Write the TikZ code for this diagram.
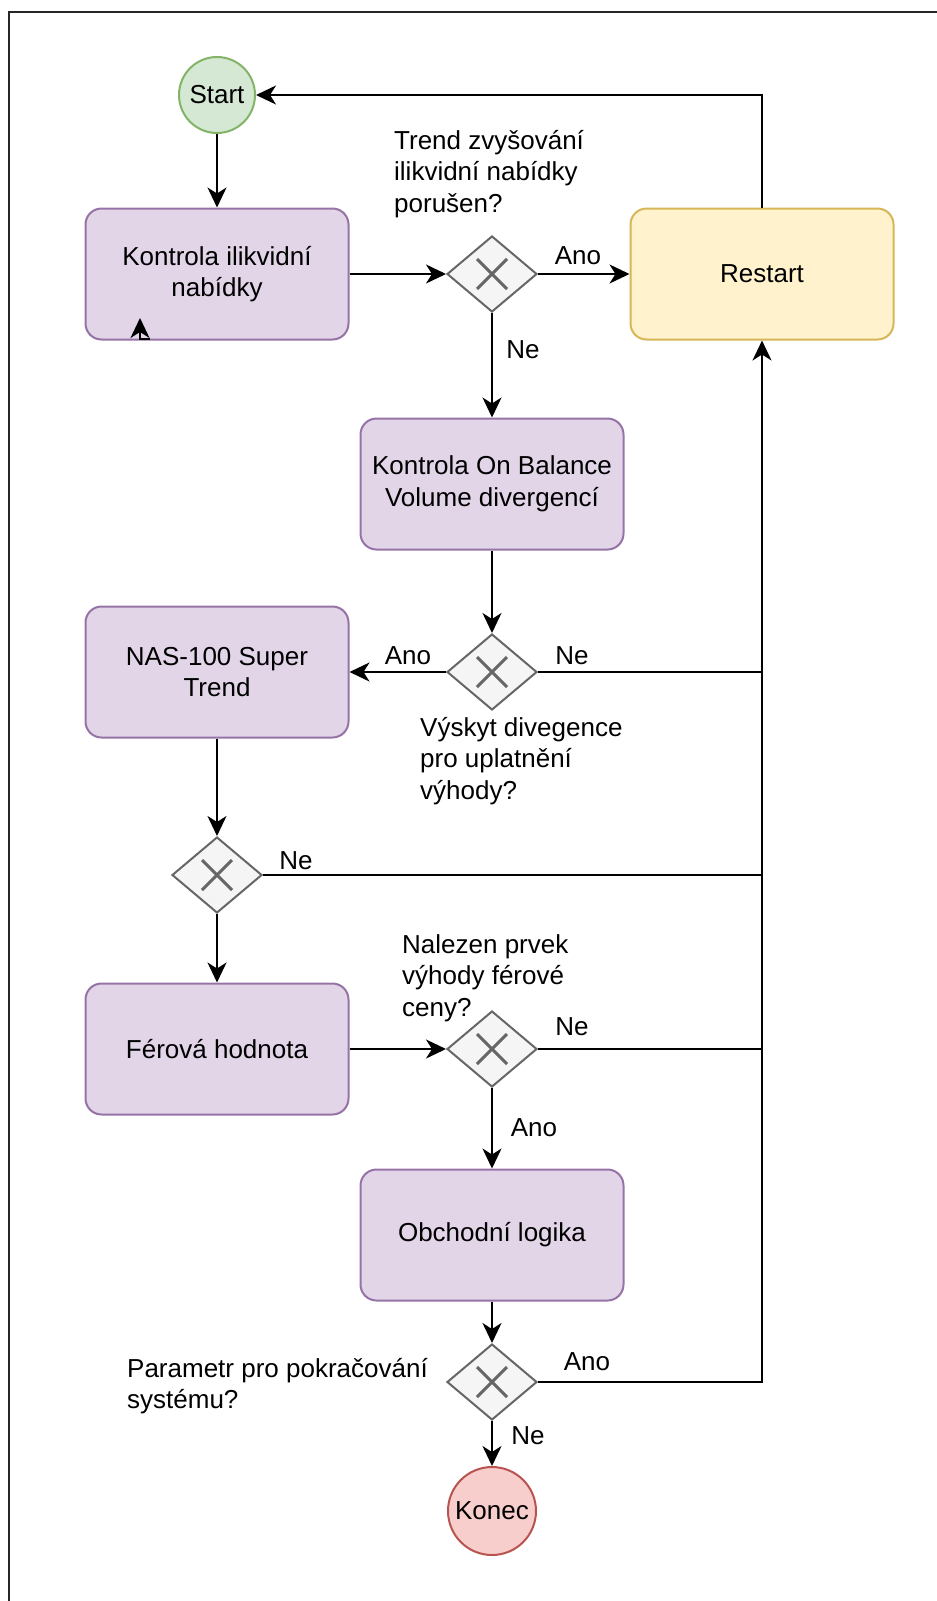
\documentclass[tikz,border=0pt]{standalone}
\usepackage{fontspec}
\setmainfont{Liberation Sans}
\usetikzlibrary{arrows.meta,shapes.geometric}
\definecolor{purfill}{HTML}{E1D5E7}
\definecolor{purline}{HTML}{9673A6}
\definecolor{grnfill}{HTML}{D5E8D4}
\definecolor{grnline}{HTML}{82B366}
\definecolor{yelfill}{HTML}{FFF2CC}
\definecolor{yelline}{HTML}{D6B656}
\definecolor{redfill}{HTML}{F8CECC}
\definecolor{redline}{HTML}{B85450}
\definecolor{gwfill}{HTML}{F5F5F5}
\definecolor{gwline}{HTML}{666666}
\begin{document}
\begin{tikzpicture}[x=1pt,y=-1pt,
  every node/.style={font=\fontsize{26}{31.5}\selectfont},
  proc/.style={draw=purline,fill=purfill,line width=2pt,rounded corners=16pt,
    minimum width=263pt,minimum height=131pt,align=center,inner sep=0pt},
  restartbox/.style={proc,draw=yelline,fill=yelfill},
  startnode/.style={circle,draw=grnline,fill=grnfill,line width=2pt,minimum size=76pt,inner sep=0pt},
  endnode/.style={circle,draw=redline,fill=redfill,line width=2pt,minimum size=88pt,inner sep=0pt},
  gateway/.style={diamond,draw=gwline,fill=gwfill,line width=2pt,minimum width=90pt,
    minimum height=76pt,inner sep=0pt,
    path picture={\draw[gwline,line width=3pt]
      ([xshift=-15pt,yshift=-15pt]path picture bounding box.center) -- ([xshift=15pt,yshift=15pt]path picture bounding box.center)
      ([xshift=-15pt,yshift=15pt]path picture bounding box.center) -- ([xshift=15pt,yshift=-15pt]path picture bounding box.center);}},
  conn/.style={line width=2pt,black},
  arr/.style={conn,-{Stealth[length=20pt,width=19pt,inset=6pt]}},
  lbl/.style={inner sep=0pt,align=left,anchor=west}
]
\useasboundingbox (0,0) rectangle (937,1601);
\clip (0,0) rectangle (937,1601);
\draw[line width=2pt,black!85] (9,1650) -- (9,12) -- (990,12);

\node[startnode] (start) at (217,95) {Start};
\node[proc] (k1) at (217,274) {Kontrola ilikvidní\\nabídky};
\node[gateway] (d1) at (492,274) {};
\node[restartbox] (restart) at (762,274) {Restart};
\node[proc] (k2) at (492,484) {Kontrola On Balance\\Volume divergencí};
\node[gateway] (d2) at (492,672) {};
\node[proc] (nas) at (217,672) {NAS-100 Super\\Trend};
\node[gateway] (d3) at (217,875) {};
\node[proc] (fer) at (217,1049) {Férová hodnota};
\node[gateway] (d4) at (492,1049) {};
\node[proc] (obch) at (492,1235) {Obchodní logika};
\node[gateway] (d5) at (492,1382) {};
\node[endnode] (konec) at (492,1511) {Konec};

\coordinate (t2) at (762,672);
\coordinate (t3) at (762,875);
\coordinate (t4) at (762,1049);
\coordinate (t5) at (762,1382);
\coordinate (stubA) at (150,339);
\coordinate (stubB) at (140,318);

\draw[arr] (start) -- (k1);
\draw[arr] (k1) -- (d1);
\draw[arr] (d1) -- (restart);
\draw[arr] (d1) -- (k2);
\draw[arr] (restart.north) |- (start.east);
\draw[arr] (k2) -- (d2);
\draw[arr] (d2) -- (nas);
\draw[conn] (d2.east) -- (t2);
\draw[arr] (nas) -- (d3);
\draw[conn] (d3.east) -- (t3);
\draw[arr] (d3) -- (fer);
\draw[arr] (fer) -- (d4);
\draw[conn] (d4.east) -- (t4);
\draw[arr] (d4) -- (obch);
\draw[arr] (obch) -- (d5);
\draw[arr] (d5.east) -- (t5) -- (restart.south);
\draw[arr] (d5) -- (konec);
\draw[arr] (stubA) -| (stubB);

\node (l1) at (578,256) {Ano};
\node (l2) at (523,350) {Ne};
\node (l3) at (408,656) {Ano};
\node (l4) at (572,656) {Ne};
\node (l5) at (296,861) {Ne};
\node (l6) at (572,1027) {Ne};
\node (l7) at (534,1128) {Ano};
\node (l8) at (587,1362) {Ano};
\node (l9) at (528,1436) {Ne};

\node[lbl] (q1) at (394,174) {Trend zvyšování\\ilikvidní nabídky\\porušen?};
\node[lbl] (q2) at (420,761) {Výskyt divegence\\pro uplatnění\\výhody?};
\node[lbl] (q3) at (402,978) {Nalezen prvek\\výhody férové\\ceny?};
\node[lbl] (q4) at (127,1386) {Parametr pro pokračování\\systému?};
\end{tikzpicture}
\end{document}
